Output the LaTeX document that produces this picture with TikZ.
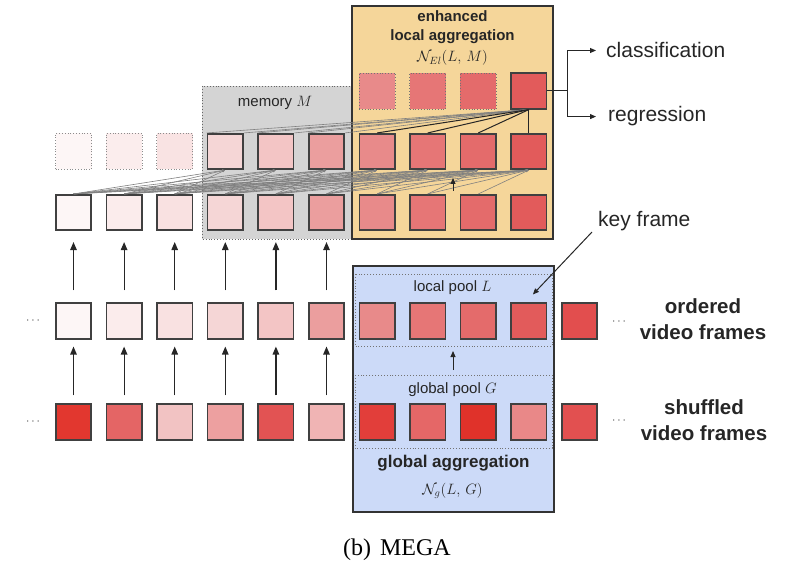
\RequirePackage{fix-cm}
\documentclass[tikz,border=0pt]{standalone}
\usepackage{fontspec}
\setmainfont{Liberation Serif}
\setsansfont{Liberation Sans}
\usetikzlibrary{arrows.meta,calc}

% frame colours, light to dark (ordered sequence)
\definecolor{o1}{HTML}{FDF6F6}
\definecolor{o2}{HTML}{FBECEC}
\definecolor{o3}{HTML}{F9E1E1}
\definecolor{o4}{HTML}{F5D6D6}
\definecolor{o5}{HTML}{F3C5C5}
\definecolor{o6}{HTML}{EB9E9E}
\definecolor{o7}{HTML}{E88A8A}
\definecolor{o8}{HTML}{E67676}
\definecolor{o9}{HTML}{E46B6B}
\definecolor{o10}{HTML}{E25B5B}
\definecolor{o11}{HTML}{E24E4E}
% shuffled sequence
\definecolor{s1}{HTML}{E2372F}
\definecolor{s2}{HTML}{E46565}
\definecolor{s3}{HTML}{F2C3C3}
\definecolor{s4}{HTML}{EDA0A0}
\definecolor{s5}{HTML}{E25353}
\definecolor{s6}{HTML}{F0B4B4}
\definecolor{s7}{HTML}{E23E3A}
\definecolor{s8}{HTML}{E56767}
\definecolor{s9}{HTML}{E0322A}
\definecolor{s10}{HTML}{E98888}
\definecolor{s11}{HTML}{E25050}
% faded frames
\definecolor{g1}{HTML}{FDF6F6}
\definecolor{g2}{HTML}{FBEDED}
\definecolor{g3}{HTML}{F9E3E3}
% regions
\definecolor{enhfill}{RGB}{245,214,154}
\definecolor{memfill}{RGB}{212,212,212}
\definecolor{glbfill}{RGB}{204,218,248}

\begin{document}
\begin{tikzpicture}[x=1pt,y=-1pt,
  frame/.style={draw=black!75,line width=1.6pt,minimum size=35.5pt,inner sep=0pt,fill=#1},
  ghost/.style 2 args={draw=#2,dotted,line width=0.8pt,minimum size=36pt,inner sep=0pt,fill=#1},
  arr/.style={draw=black!85,line width=1.2pt,-{Triangle[length=8pt,width=6.5pt]}},
  thinarr/.style={draw=black!85,line width=1pt,-{Triangle[length=6pt,width=5pt]}},
  link/.style={draw=black!50,line width=0.6pt,-{Latex[length=3pt,width=2.5pt]}},
  region/.style={draw=black!80,line width=1.3pt},
  pool/.style={draw=black!55,dotted,line width=0.9pt},
  lbl/.style={text=black!85,inner sep=0pt,font=\fontsize{21}{25}\selectfont\sffamily},
  boldlbl/.style={text=black!85,inner sep=0pt,align=center,font=\fontsize{20.5}{25.5}\selectfont\sffamily\bfseries},
  small/.style={text=black!85,inner sep=0pt,font=\fontsize{15}{18}\selectfont\sffamily},
  smallbold/.style={text=black!85,inner sep=0pt,align=center,font=\fontsize{15}{18.5}\selectfont\sffamily\bfseries},
  dots/.style={text=black!75,inner sep=0pt,font=\fontsize{12}{12}\selectfont}]

\useasboundingbox (0,0) rectangle (795,561);

% ---- shaded regions ----
\draw[pool,fill=memfill,draw=black!60] (202,86) rectangle (352,239);
\draw[region,fill=enhfill] (352,6) rectangle (553,239);
\draw[region,fill=glbfill] (353,266) rectangle (554,512);
\draw[pool] (355,274) rectangle (552,346);
\draw[pool] (355,375) rectangle (552,448);

% ---- frame rows ----
\foreach \c in {1,...,11} {
  \node[frame=o\c] (ord\c) at ({73.5+50.6*(\c-1)},321) {};
  \node[frame=s\c] (shf\c) at ({73.5+50.6*(\c-1)},422) {};
}
\foreach \c in {1,...,10}
  \node[frame=o\c] (feat\c) at ({73.5+50.6*(\c-1)},212.5) {};
\foreach \c in {1,2,3}
  \node[ghost={g\c}{black!45}] (enh\c) at ({73.5+50.6*(\c-1)},151.5) {};
\foreach \c in {4,...,10}
  \node[frame=o\c] (enh\c) at ({73.5+50.6*(\c-1)},151.5) {};
\foreach \c in {7,8,9}
  \node[ghost={o\c}{black!55}] (top\c) at ({73.5+50.6*(\c-1)},91) {};
\node[frame=o10] (top10) at ({73.5+50.6*9},91) {};

% ---- feature flow between rows ----
\foreach \c in {1,...,6} {
  \draw[arr,shorten <=8pt,shorten >=7pt] (shf\c) -- (ord\c);
  \draw[arr,shorten <=12pt,shorten >=11pt] (ord\c) -- (feat\c);
}

% dense local links, row of features to enhanced row
\foreach \j in {4,...,10} {
  \pgfmathtruncatemacro{\last}{\j-1}
  \foreach \i in {1,...,\last}
    \draw[link] (feat\i.north) -- (enh\j.south);
}
\coordinate (lnkA) at (453,191);
\coordinate (lnkB) at (453,178);
\draw[thinarr] (lnkA) -- (lnkB);

% links from the key frame result to the enhanced row
\foreach \j in {4,5,6}
  \foreach \a in {north west,north east}
    \draw[draw=black!50,line width=0.6pt] (top10.south) -- (enh\j.\a);
\foreach \j in {7,8,9,10}
  \draw[draw=black!85,line width=1pt] (top10.south) -- (enh\j.north);

% ---- outputs ----
\coordinate (split) at (567,91);
\node[lbl,anchor=base west] (cls) at (606,58) {classification};
\node[lbl,anchor=base west] (reg) at (608,122) {regression};
\draw[draw=black!85,line width=1pt] (top10.east) -- (split);
\draw[thinarr,shorten >=10pt] (split) |- (cls.west);
\draw[thinarr,shorten >=12pt] (split) |- (reg.west);

% ---- key frame pointer ----
\node[lbl,anchor=base west] (kf) at (598,227) {key frame};
\coordinate (kftail) at (592,232);
\draw[thinarr] (kftail) -- ($(ord10.north)+(4,-8)$);

% ---- pool link ----
\coordinate (gpTop) at (453,370);
\coordinate (lpBot) at (453,351);
\draw[thinarr] (gpTop) -- (lpBot);

% ---- labels ----
\node[smallbold,anchor=center] (enhT) at (452.5,27) {enhanced\\local aggregation};
\node[text=black!85,inner sep=0pt,anchor=base,font=\fontsize{15}{18}\selectfont] (enhM) at (452.5,62) {$\mathcal{N}_{El}(L,\,M)$};
\node[small,anchor=base] (memT) at (275,107) {memory $M$};
\node[small,anchor=base] (lpT) at (452.5,292) {local pool $L$};
\node[small,anchor=base] (gpT) at (452.5,393) {global pool $G$};
\node[text=black!85,inner sep=0pt,anchor=base,font=\fontsize{17}{20}\selectfont\sffamily\bfseries] (gaT) at (453.5,467) {global aggregation};
\node[text=black!85,inner sep=0pt,anchor=base,font=\fontsize{15}{18}\selectfont] (gaM) at (452.5,494) {$\mathcal{N}_{g}(L,\,G)$};

\node[boldlbl] (ordT) at (703,319) {ordered\\video frames};
\node[boldlbl] (shfT) at (704,420) {shuffled\\video frames};

\node[dots] (dL4) at (33,321) {$\cdots$};
\node[dots] (dL5) at (33,422) {$\cdots$};
\node[dots] (dR4) at (619,322) {$\cdots$};
\node[dots] (dR5) at (619,421) {$\cdots$};

\node[text=black,inner sep=0pt,anchor=base,font=\fontsize{24}{28}\selectfont] (cap) at (397,555) {(b)\hspace{9pt}MEGA};
\end{tikzpicture}
\end{document}
